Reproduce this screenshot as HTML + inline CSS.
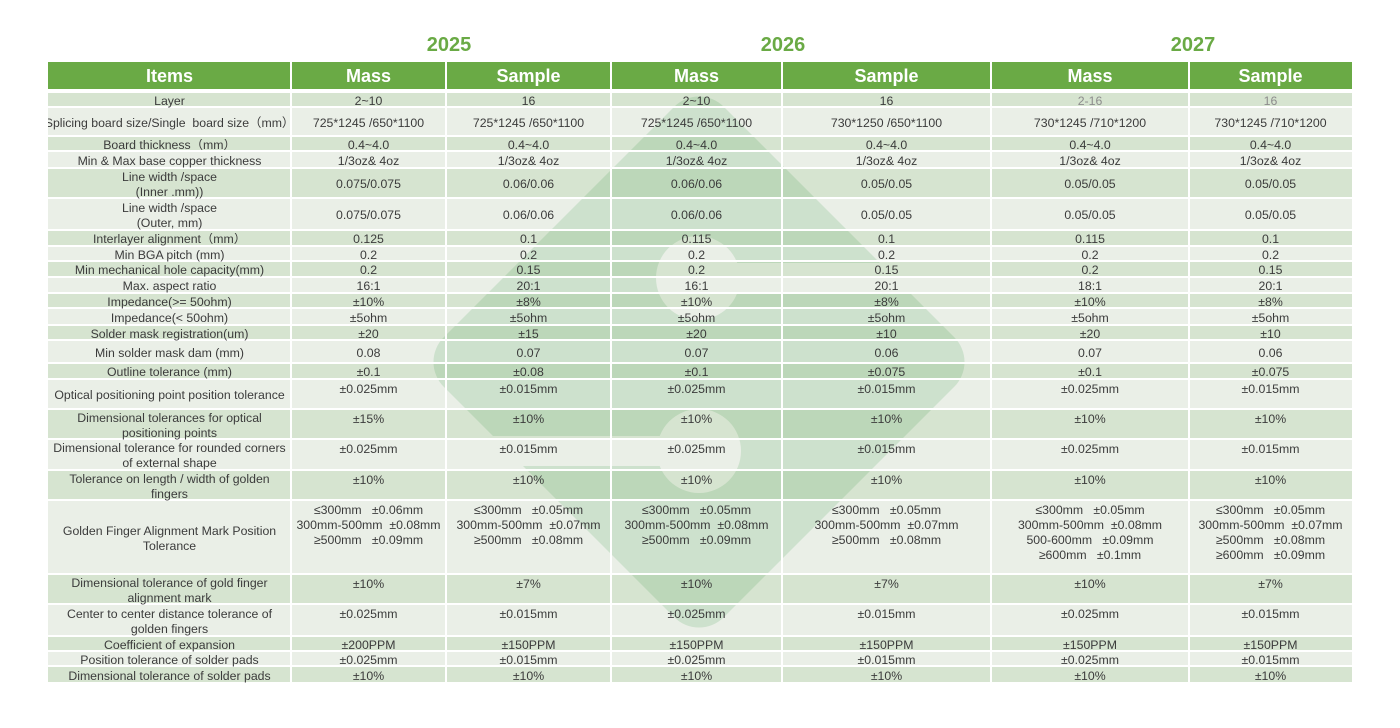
<!DOCTYPE html>
<html><head><meta charset="utf-8">
<style>
html,body{margin:0;padding:0;background:#fff;}
body{width:1400px;height:728px;position:relative;overflow:hidden;font-family:"Liberation Sans","Noto Sans CJK SC",sans-serif;color:#3b3b3b;}
.yr{position:absolute;top:32px;width:120px;text-align:center;font-weight:bold;font-size:20px;line-height:26px;color:#6aaa45;}
.hd{position:absolute;left:48px;top:62px;width:1304px;height:27px;background:#6aaa45;}
.hd div{position:absolute;top:0;height:27px;line-height:29px;text-align:center;color:#fff;font-weight:bold;font-size:18px;z-index:5;}
.r{position:absolute;left:48px;width:1304px;font-size:12.3px;line-height:15px;}
.d{background:#d6e4d0;}
.l{background:#eaefe7;}
.c{position:absolute;top:1.5px;bottom:-1.5px;display:flex;align-items:center;justify-content:center;text-align:center;white-space:pre;z-index:5;}
.c0{overflow:hidden;}
.t .c{align-items:flex-start;}
.t .c0{align-items:center;}
.c0{left:0;width:243px;}
.c1{left:243px;width:155px;}
.c2{left:398px;width:165px;}
.c3{left:563px;width:171px;}
.c4{left:734px;width:209px;}
.c5{left:943px;width:198px;}
.c6{left:1141px;width:163px;}
.g{color:#8c8c8c;}
.vl{position:absolute;top:62px;height:620px;width:2px;background:#fff;z-index:2;}
.hl{position:absolute;left:48px;width:1304px;height:2px;background:#fff;z-index:2;}
svg.wm{position:absolute;left:0;top:0;mix-blend-mode:multiply;z-index:1;}
</style></head><body>

<div class="yr" style="left:389px">2025</div>
<div class="yr" style="left:723px">2026</div>
<div class="yr" style="left:1133px">2027</div>

<div class="hd">
<div style="left:0;width:243px">Items</div>
<div style="left:243px;width:155px">Mass</div>
<div style="left:398px;width:165px">Sample</div>
<div style="left:563px;width:171px">Mass</div>
<div style="left:734px;width:209px">Sample</div>
<div style="left:943px;width:198px">Mass</div>
<div style="left:1141px;width:163px">Sample</div>
</div>

<div class="r d" style="top:93px;height:13px"><div class="c c0">Layer</div><div class="c c1">2~10</div><div class="c c2">16</div><div class="c c3">2~10</div><div class="c c4">16</div><div class="c c5 g">2-16</div><div class="c c6 g">16</div></div>
<div class="r l" style="top:108px;height:27px"><div class="c c0">Splicing board size/Single  board size（mm）</div><div class="c c1">725*1245 /650*1100</div><div class="c c2">725*1245 /650*1100</div><div class="c c3">725*1245 /650*1100</div><div class="c c4">730*1250 /650*1100</div><div class="c c5">730*1245 /710*1200</div><div class="c c6">730*1245 /710*1200</div></div>
<div class="r d" style="top:137px;height:13px"><div class="c c0">Board thickness（mm）</div><div class="c c1">0.4~4.0</div><div class="c c2">0.4~4.0</div><div class="c c3">0.4~4.0</div><div class="c c4">0.4~4.0</div><div class="c c5">0.4~4.0</div><div class="c c6">0.4~4.0</div></div>
<div class="r l" style="top:152px;height:15px"><div class="c c0">Min &amp; Max base copper thickness</div><div class="c c1">1/3oz&amp; 4oz</div><div class="c c2">1/3oz&amp; 4oz</div><div class="c c3">1/3oz&amp; 4oz</div><div class="c c4">1/3oz&amp; 4oz</div><div class="c c5">1/3oz&amp; 4oz</div><div class="c c6">1/3oz&amp; 4oz</div></div>
<div class="r d" style="top:169px;height:28px"><div class="c c0">Line width /space<br>(Inner .mm))</div><div class="c c1">0.075/0.075</div><div class="c c2">0.06/0.06</div><div class="c c3">0.06/0.06</div><div class="c c4">0.05/0.05</div><div class="c c5">0.05/0.05</div><div class="c c6">0.05/0.05</div></div>
<div class="r l" style="top:199px;height:30px"><div class="c c0">Line width /space<br>(Outer, mm)</div><div class="c c1">0.075/0.075</div><div class="c c2">0.06/0.06</div><div class="c c3">0.06/0.06</div><div class="c c4">0.05/0.05</div><div class="c c5">0.05/0.05</div><div class="c c6">0.05/0.05</div></div>
<div class="r d" style="top:231px;height:14px"><div class="c c0">Interlayer alignment（mm）</div><div class="c c1">0.125</div><div class="c c2">0.1</div><div class="c c3">0.115</div><div class="c c4">0.1</div><div class="c c5">0.115</div><div class="c c6">0.1</div></div>
<div class="r l" style="top:247px;height:13px"><div class="c c0">Min BGA pitch (mm)</div><div class="c c1">0.2</div><div class="c c2">0.2</div><div class="c c3">0.2</div><div class="c c4">0.2</div><div class="c c5">0.2</div><div class="c c6">0.2</div></div>
<div class="r d" style="top:262px;height:14px"><div class="c c0">Min mechanical hole capacity(mm)</div><div class="c c1">0.2</div><div class="c c2">0.15</div><div class="c c3">0.2</div><div class="c c4">0.15</div><div class="c c5">0.2</div><div class="c c6">0.15</div></div>
<div class="r l" style="top:278px;height:14px"><div class="c c0">Max. aspect ratio</div><div class="c c1">16:1</div><div class="c c2">20:1</div><div class="c c3">16:1</div><div class="c c4">20:1</div><div class="c c5">18:1</div><div class="c c6">20:1</div></div>
<div class="r d" style="top:294px;height:13px"><div class="c c0">Impedance(&gt;= 50ohm)</div><div class="c c1">±10%</div><div class="c c2">±8%</div><div class="c c3">±10%</div><div class="c c4">±8%</div><div class="c c5">±10%</div><div class="c c6">±8%</div></div>
<div class="r l" style="top:309px;height:15px"><div class="c c0">Impedance(&lt; 50ohm)</div><div class="c c1">±5ohm</div><div class="c c2">±5ohm</div><div class="c c3">±5ohm</div><div class="c c4">±5ohm</div><div class="c c5">±5ohm</div><div class="c c6">±5ohm</div></div>
<div class="r d" style="top:326px;height:13px"><div class="c c0">Solder mask registration(um)</div><div class="c c1">±20</div><div class="c c2">±15</div><div class="c c3">±20</div><div class="c c4">±10</div><div class="c c5">±20</div><div class="c c6">±10</div></div>
<div class="r l" style="top:341px;height:21px"><div class="c c0">Min solder mask dam (mm)</div><div class="c c1">0.08</div><div class="c c2">0.07</div><div class="c c3">0.07</div><div class="c c4">0.06</div><div class="c c5">0.07</div><div class="c c6">0.06</div></div>
<div class="r d" style="top:364px;height:14px"><div class="c c0">Outline tolerance (mm)</div><div class="c c1">±0.1</div><div class="c c2">±0.08</div><div class="c c3">±0.1</div><div class="c c4">±0.075</div><div class="c c5">±0.1</div><div class="c c6">±0.075</div></div>
<div class="r l t" style="top:380px;height:28px"><div class="c c0">Optical positioning point position tolerance</div><div class="c c1">±0.025mm</div><div class="c c2">±0.015mm</div><div class="c c3">±0.025mm</div><div class="c c4">±0.015mm</div><div class="c c5">±0.025mm</div><div class="c c6">±0.015mm</div></div>
<div class="r d t" style="top:410px;height:28px"><div class="c c0">Dimensional tolerances for optical<br>positioning points</div><div class="c c1">±15%</div><div class="c c2">±10%</div><div class="c c3">±10%</div><div class="c c4">±10%</div><div class="c c5">±10%</div><div class="c c6">±10%</div></div>
<div class="r l t" style="top:440px;height:29px"><div class="c c0">Dimensional tolerance for rounded corners<br>of external shape</div><div class="c c1">±0.025mm</div><div class="c c2">±0.015mm</div><div class="c c3">±0.025mm</div><div class="c c4">±0.015mm</div><div class="c c5">±0.025mm</div><div class="c c6">±0.015mm</div></div>
<div class="r d t" style="top:471px;height:28px"><div class="c c0">Tolerance on length / width of golden<br>fingers</div><div class="c c1">±10%</div><div class="c c2">±10%</div><div class="c c3">±10%</div><div class="c c4">±10%</div><div class="c c5">±10%</div><div class="c c6">±10%</div></div>
<div class="r l t" style="top:501px;height:72px"><div class="c c0">Golden Finger Alignment Mark Position<br>Tolerance</div><div class="c c1">≤300mm   ±0.06mm<br>300mm-500mm  ±0.08mm<br>≥500mm   ±0.09mm</div><div class="c c2">≤300mm   ±0.05mm<br>300mm-500mm  ±0.07mm<br>≥500mm   ±0.08mm</div><div class="c c3">≤300mm   ±0.05mm<br>300mm-500mm  ±0.08mm<br>≥500mm   ±0.09mm</div><div class="c c4">≤300mm   ±0.05mm<br>300mm-500mm  ±0.07mm<br>≥500mm   ±0.08mm</div><div class="c c5">≤300mm   ±0.05mm<br>300mm-500mm  ±0.08mm<br>500-600mm   ±0.09mm<br>≥600mm   ±0.1mm</div><div class="c c6">≤300mm   ±0.05mm<br>300mm-500mm  ±0.07mm<br>≥500mm   ±0.08mm<br>≥600mm   ±0.09mm</div></div>
<div class="r d t" style="top:575px;height:28px"><div class="c c0">Dimensional tolerance of gold finger<br>alignment mark</div><div class="c c1">±10%</div><div class="c c2">±7%</div><div class="c c3">±10%</div><div class="c c4">±7%</div><div class="c c5">±10%</div><div class="c c6">±7%</div></div>
<div class="r l t" style="top:605px;height:30px"><div class="c c0">Center to center distance tolerance of<br>golden fingers</div><div class="c c1">±0.025mm</div><div class="c c2">±0.015mm</div><div class="c c3">±0.025mm</div><div class="c c4">±0.015mm</div><div class="c c5">±0.025mm</div><div class="c c6">±0.015mm</div></div>
<div class="r d" style="top:637px;height:13px"><div class="c c0">Coefficient of expansion</div><div class="c c1">±200PPM</div><div class="c c2">±150PPM</div><div class="c c3">±150PPM</div><div class="c c4">±150PPM</div><div class="c c5">±150PPM</div><div class="c c6">±150PPM</div></div>
<div class="r l" style="top:652px;height:13px"><div class="c c0">Position tolerance of solder pads</div><div class="c c1">±0.025mm</div><div class="c c2">±0.015mm</div><div class="c c3">±0.025mm</div><div class="c c4">±0.015mm</div><div class="c c5">±0.025mm</div><div class="c c6">±0.015mm</div></div>
<div class="r d" style="top:667px;height:15px"><div class="c c0">Dimensional tolerance of solder pads</div><div class="c c1">±10%</div><div class="c c2">±10%</div><div class="c c3">±10%</div><div class="c c4">±10%</div><div class="c c5">±10%</div><div class="c c6">±10%</div></div>

<svg class="wm" width="1400" height="728" viewBox="0 0 1400 728">
<defs><mask id="m" maskUnits="userSpaceOnUse" x="0" y="0" width="1400" height="728">
<rect x="0" y="0" width="1400" height="728" fill="#000"/>
<rect x="501" y="164" width="396" height="396" rx="35" ry="35" transform="rotate(45 699 362)" fill="#fff"/>
<circle cx="698" cy="278" r="42" fill="#000"/>
<rect x="698" y="263" width="320" height="30" fill="#000"/>
<circle cx="699" cy="451" r="42" fill="#000"/>
<rect x="380" y="436" width="319" height="30" fill="#000"/>
</mask></defs>
<rect x="0" y="0" width="1400" height="728" fill="#e0f1e3" mask="url(#m)"/>
</svg>

<div class="vl" style="left:290px"></div>
<div class="vl" style="left:445px"></div>
<div class="vl" style="left:610px"></div>
<div class="vl" style="left:781px"></div>
<div class="vl" style="left:990px"></div>
<div class="vl" style="left:1188px"></div>

<div class="hl" style="top:106px"></div>
<div class="hl" style="top:135px"></div>
<div class="hl" style="top:150px"></div>
<div class="hl" style="top:167px"></div>
<div class="hl" style="top:197px"></div>
<div class="hl" style="top:229px"></div>
<div class="hl" style="top:245px"></div>
<div class="hl" style="top:260px"></div>
<div class="hl" style="top:276px"></div>
<div class="hl" style="top:292px"></div>
<div class="hl" style="top:307px"></div>
<div class="hl" style="top:324px"></div>
<div class="hl" style="top:339px"></div>
<div class="hl" style="top:362px"></div>
<div class="hl" style="top:378px"></div>
<div class="hl" style="top:408px"></div>
<div class="hl" style="top:438px"></div>
<div class="hl" style="top:469px"></div>
<div class="hl" style="top:499px"></div>
<div class="hl" style="top:573px"></div>
<div class="hl" style="top:603px"></div>
<div class="hl" style="top:635px"></div>
<div class="hl" style="top:650px"></div>
<div class="hl" style="top:665px"></div>

</body></html>
